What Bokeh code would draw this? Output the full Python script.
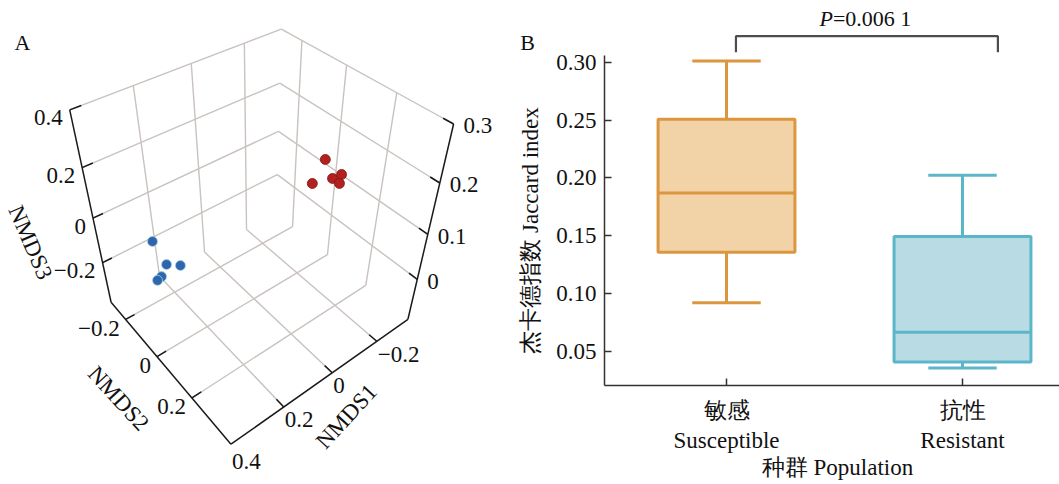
import numpy as np
from bokeh.plotting import figure
from bokeh.layouts import row
from bokeh.models import Range1d, FixedTicker, NumeralTickFormatter
from bokeh.core.properties import value
from bokeh.embed import file_html
from bokeh.resources import INLINE

# ---------------- data: panel A (3-D NMDS) ----------------
nmds1_red = [-0.290, -0.161, -0.255, -0.276, -0.262]
nmds2_red = [0.005, 0.085, 0.078, 0.095, 0.103]
nmds3_red = [0.080, 0.096, 0.064, 0.080, 0.056]
nmds1_blue = [0.251, 0.258, 0.218, 0.303, 0.318]
nmds2_blue = [-0.215, -0.125, -0.107, -0.083, -0.084]
nmds3_blue = [-0.128, -0.160, -0.176, -0.152, -0.160]

nmds1_lim = (-0.35, 0.4)
nmds2_lim = (-0.3, 0.4)
nmds3_lim = (-0.4, 0.4)
nmds3r_lim = (-0.1, 0.3)          # right-hand vertical axis scale
nmds1_ticks = [0.2, 0.0, -0.2]
nmds1_labels = ["0.2", "0", "\u22120.2"]
nmds2_ticks = [-0.2, 0.0, 0.2, 0.4]
nmds2_labels = ["\u22120.2", "0", "0.2", "0.4"]
nmds3_ticks = [-0.2, 0.0, 0.2, 0.4]
nmds3_labels = ["\u22120.2", "0", "0.2", "0.4"]
nmds3r_ticks = [0.0, 0.1, 0.2, 0.3]
nmds3r_labels = ["0", "0.1", "0.2", "0.3"]

# ---------------- data: panel B (Jaccard box plot) ----------------
cat_pos = [1, 2]
cat_cn = ["敏感", "抗性"]
cat_en = ["Susceptible", "Resistant"]
w_low = [0.092, 0.0357]
q1 = [0.1357, 0.0408]
med = [0.187, 0.0666]
q3 = [0.2506, 0.1493]
w_high = [0.301, 0.2023]
y_ticks = [0.05, 0.10, 0.15, 0.20, 0.25, 0.30]
p_text = "=0.006 1"

# ---------------- styles ----------------
SERIF = "Liberation Serif"
FS = "23px"
TXT_C = "#111111"
GRID_C = "#c9c2be"
AX_C = "#1a1a1a"
RED = "#b3211f"
BLUE = "#2f65ad"
BOX_LINE = ["#dc963f", "#5cb6c9"]
BOX_FILL = ["#f2d3a8", "#b9dce4"]

# ---------------- camera for the 3-D panel (perspective projection) ----------------
CAM = np.array([[-271.48042, 114.58556, -56.72875, 253.38972],
                [78.11903, 93.91843, -216.45914, 298.22255],
                [-0.18729, -0.24478, -0.22276, 1.0]])

def hz(z, lim=nmds3_lim):
    return (np.asarray(z, float) - lim[0]) / (lim[1] - lim[0])

def project(a, b, h):
    a = np.atleast_1d(np.asarray(a, float)); b = np.atleast_1d(np.asarray(b, float))
    h = np.atleast_1d(np.asarray(h, float))
    X = np.vstack([a, b, h, np.ones_like(a)])
    q = CAM @ X
    return q[0] / q[2], q[1] / q[2]

def seg_coords(segs):
    xs, ys = [], []
    for (p0, p1) in segs:
        x, y = project([p0[0], p1[0]], [p0[1], p1[1]], [p0[2], p1[2]])
        xs.append(list(x)); ys.append(list(y))
    return xs, ys

def add_text(p, x, y, txt, align="center", dx=0, dy=0, angle=0.0, size=FS, style="normal"):
    p.text(x=list(np.atleast_1d(x)), y=list(np.atleast_1d(y)), text=list(np.atleast_1d(txt)),
           text_font=value(SERIF), text_font_size=size, text_align=align,
           text_baseline="middle", x_offset=dx, y_offset=dy, angle=angle,
           text_color=TXT_C, text_font_style=style)

U0, U1 = nmds1_lim     # back, front
V0, V1 = nmds2_lim     # back, front
H = list(hz(nmds3_ticks))

W_A, W_B, HT = 500, 559, 484
pA = figure(width=W_A, height=HT, x_range=Range1d(0, W_A), y_range=Range1d(HT, 0),
            output_backend="svg", toolbar_location=None, min_border=0,
            x_axis_location=None, y_axis_location=None)
pA.grid.visible = False
pA.outline_line_color = None

grid = []
for h in H:
    grid.append(((U1, V0, h), (U0, V0, h)))
    grid.append(((U0, V0, h), (U0, V1, h)))
for u in nmds1_ticks:
    grid.append(((u, V0, 0), (u, V0, 1)))
    grid.append(((u, V0, 0), (u, V1, 0)))
for v in nmds2_ticks:
    if v < V1:
        grid.append(((U0, v, 0), (U0, v, 1)))
        grid.append(((U0, v, 0), (U1, v, 0)))
gx, gy = seg_coords(grid)
pA.multi_line(gx, gy, line_color=GRID_C, line_width=1.4)

axes = [((U1, V0, 0), (U1, V0, 1)), ((U1, V0, 0), (U1, V1, 0)),
        ((U1, V1, 0), (U0, V1, 0)), ((U0, V1, 0), (U0, V1, 1))]
TL = 0.035
ticks = []
for h in H:
    ticks.append(((U1, V0, h), (U1 - TL, V0, h)))
    ticks.append(((U0, V1, h), (U0, V1 - TL, h)))
for v in nmds2_ticks:
    if v < V1:
        ticks.append(((U1, v, 0), (U1 - TL, v, 0)))
for u in nmds1_ticks:
    ticks.append(((u, V1, 0), (u, V1 - TL, 0)))
ax_x, ax_y = seg_coords(axes + ticks)
pA.multi_line(ax_x, ax_y, line_color=AX_C, line_width=1.5)

# points
rx, ry = project(nmds1_red, nmds2_red, hz(nmds3_red))
bx, by = project(nmds1_blue, nmds2_blue, hz(nmds3_blue))
pA.scatter(bx, by, size=10, fill_color=BLUE, line_color="#9fd3e0", line_width=0.8)
pA.scatter(rx, ry, size=10, fill_color=RED, line_color="#7d1512", line_width=0.8)

# tick labels
lx, ly = project([U1] * len(H), [V0] * len(H), H)
add_text(pA, lx, ly, nmds3_labels, align="right", dx=-7, dy=8)
Hr = list(hz(nmds3r_ticks, nmds3r_lim))
rlx, rly = project([U0] * len(Hr), [V1] * len(Hr), Hr)
add_text(pA, rlx, rly, nmds3r_labels, align="left", dx=10, dy=2)
n2x, n2y = project([U1] * 3, nmds2_ticks[:3], [0] * 3)
add_text(pA, n2x, n2y, nmds2_labels[:3], align="right", dx=-6, dy=9)
n2x, n2y = project([U1], nmds2_ticks[3:], [0])
add_text(pA, n2x, n2y, nmds2_labels[3:], align="left", dx=1, dy=17)
n1x, n1y = project(nmds1_ticks, [V1] * 3, [0] * 3)
add_text(pA, n1x, n1y, nmds1_labels, align="left", dx=1, dy=13)

# axis titles and panel letter (screen-pixel layout positions)
add_text(pA, 30, 242, "NMDS3", angle=-1.16)
add_text(pA, 118, 398, "NMDS2", angle=-0.83)
add_text(pA, 346, 416, "NMDS1", angle=0.83)
add_text(pA, 22, 42, "A", size="22px")

# ---------------- panel B ----------------
PX = 236.0       # pixels per category step
PY = 1157.0      # pixels per Jaccard unit
x_lo = 1 - 226 / PX
x_hi = 2 + 97 / PX
y_hi = 0.30 + 61.7 / PY
y_lo = y_hi - HT / PY
y_axis_x = 1 - 122 / PX          # where the y axis sits
x_axis_y = 0.30 - (385 - 61.7) / PY   # where the x axis sits

pB = figure(width=W_B, height=HT, x_range=Range1d(x_lo, x_hi), y_range=Range1d(y_lo, y_hi),
            output_backend="svg", toolbar_location=None, min_border=0)
pB.grid.visible = False
pB.outline_line_color = None

BW, CW = 0.58, 0.29
for i in range(2):
    x = cat_pos[i]
    pB.segment(x0=[x, x], y0=[q3[i], q1[i]], x1=[x, x], y1=[w_high[i], w_low[i]],
               line_color=BOX_LINE[i], line_width=3)
    pB.segment(x0=[x - CW / 2] * 2, x1=[x + CW / 2] * 2, y0=[w_high[i], w_low[i]],
               y1=[w_high[i], w_low[i]], line_color=BOX_LINE[i], line_width=3)
    pB.vbar(x=[x], width=BW, bottom=[q1[i]], top=[q3[i]], fill_color=BOX_FILL[i],
            line_color=BOX_LINE[i], line_width=3)
    pB.segment(x0=[x - BW / 2], x1=[x + BW / 2], y0=[med[i]], y1=[med[i]],
               line_color=BOX_LINE[i], line_width=3)

# significance bracket
b_base = max(w_high) + 0.0075
b_top = b_base + 0.014
bl, br = cat_pos[0] + 0.04, cat_pos[1] + 0.15
pB.line(x=[bl, bl, br, br], y=[b_base, b_top, b_top, b_base], line_color="#4d4d4d", line_width=2.2)
p_x = (bl + br) / 2 - 0.144
p_y = b_top + 0.0155
add_text(pB, p_x, p_y, "P", align="right", size="22px", style="italic")
add_text(pB, p_x, p_y, p_text, align="left", size="22px")

yax = pB.yaxis[0]
yax.fixed_location = y_axis_x
yax.ticker = FixedTicker(ticks=y_ticks)
yax.formatter = NumeralTickFormatter(format="0.00")
yax.bounds = (x_axis_y, 0.306)
yax.major_tick_in = 7; yax.major_tick_out = 0
yax.minor_tick_line_color = None
yax.major_label_standoff = 8
yax.major_label_text_font = SERIF
yax.major_label_text_font_size = FS
yax.major_label_text_color = TXT_C
yax.axis_line_color = "#333333"; yax.axis_line_width = 1.5
yax.major_tick_line_color = "#333333"; yax.major_tick_line_width = 1.5

xax = pB.xaxis[0]
xax.fixed_location = x_axis_y
xax.bounds = (y_axis_x, x_hi)
xax.ticker = FixedTicker(ticks=cat_pos)
xax.major_label_overrides = {cat_pos[i]: cat_cn[i] + "\n" + cat_en[i] for i in range(2)}
xax.major_label_standoff = 12
xax.major_label_text_font = SERIF
xax.major_label_text_font_size = FS
xax.major_label_text_color = TXT_C
xax.major_tick_in = 7; xax.major_tick_out = 0
xax.minor_tick_line_color = None
xax.axis_line_color = "#333333"; xax.axis_line_width = 1.5
xax.major_tick_line_color = "#333333"; xax.major_tick_line_width = 1.5

# axis titles and panel letter
add_text(pB, y_axis_x + (837 - 604) / PX, 0.30 - (467 - 61.7) / PY, "种群 Population")
add_text(pB, y_axis_x - 74 / PX, 0.30 - (230 - 61.7) / PY, "杰卡德指数 Jaccard index", angle=np.pi / 2)
add_text(pB, y_axis_x - 77 / PX, 0.30 - (42 - 61.7) / PY, "B", size="22px")

layout = row(pA, pB)
open("out.html", "w").write(file_html(layout, INLINE))
